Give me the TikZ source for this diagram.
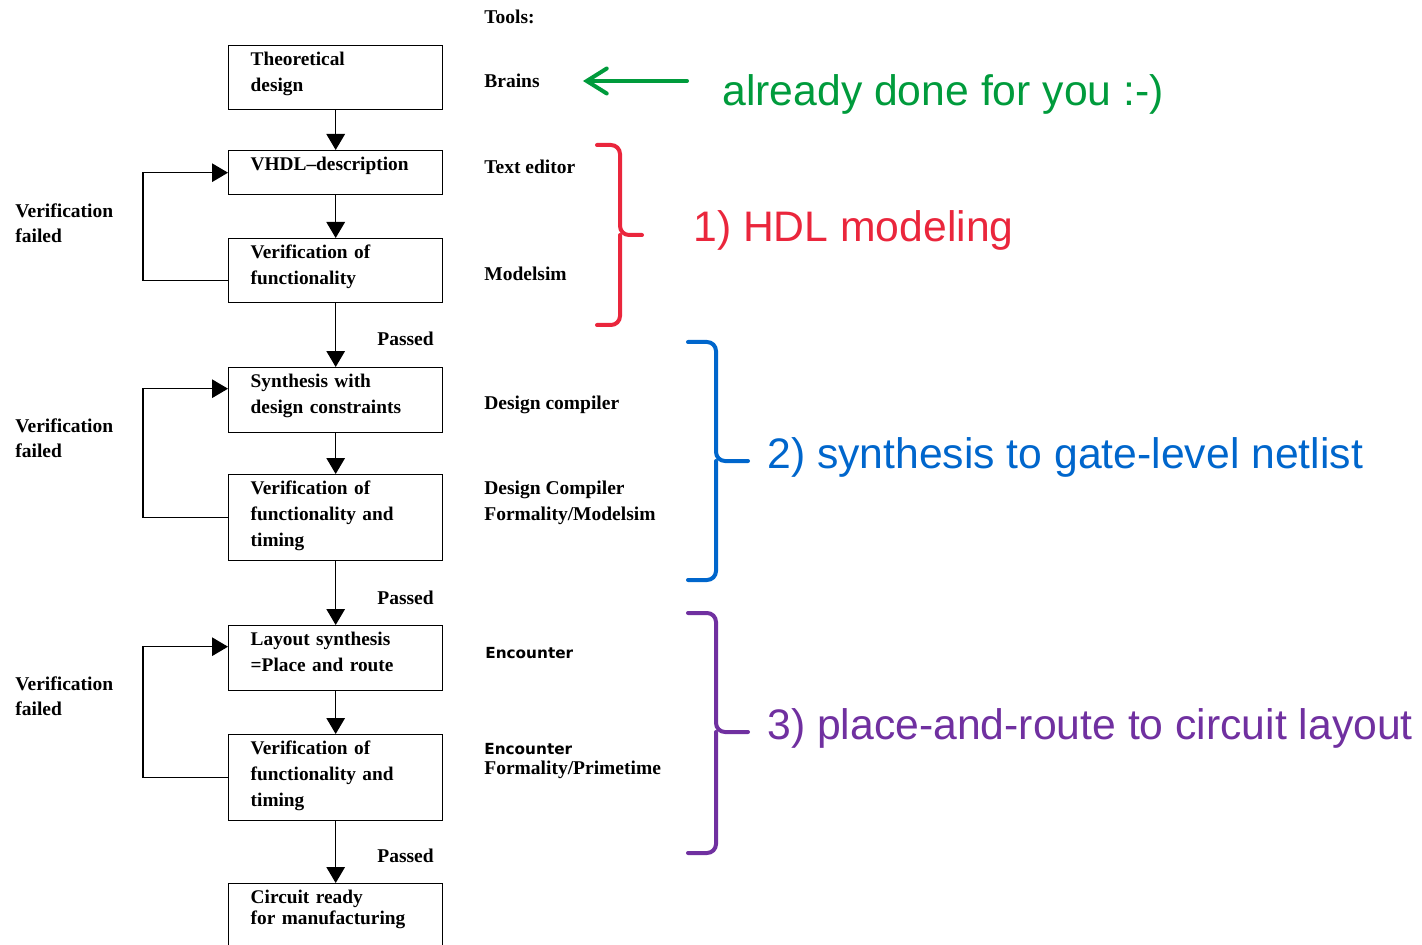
\documentclass[tikz,border=0pt]{standalone}
\usepackage{fontspec}
\setmainfont{Liberation Serif}
\newfontfamily\slidefont{Liberation Sans}
\newfontfamily\encfont{DejaVu Sans}
\usetikzlibrary{arrows.meta}
\definecolor{donegreen}{RGB}{0,155,60}
\definecolor{hdlred}{RGB}{234,38,60}
\definecolor{synblue}{RGB}{0,102,204}
\definecolor{parpurple}{RGB}{112,48,160}
\begin{document}
\begin{tikzpicture}[x=0.02cm,y=-0.02cm,
	stage/.style={draw,thick,anchor=north west,inner ysep=0pt,inner xsep=0.44cm,text width=3.4cm,align=left,text height=0.4cm,text depth=#1,font=\bfseries\fontsize{11}{14.8}\selectfont},
	flow/.style={thick,-{Triangle[length=0.32cm,width=0.37cm]}},
	tool/.style={anchor=west,inner sep=0pt,align=left,font=\bfseries\fontsize{11.1}{14.5}\selectfont},
	slide/.style={anchor=west,inner sep=0pt,font=\slidefont\fontsize{24.3}{28}\selectfont},
	bracket/.style={line width=0.08cm,rounded corners=0.18cm,line cap=round,color=#1}]
		\path[use as bounding box,clip] (0,0) rectangle (1422,945);
		% design flow
		\node[stage=0.88cm] (theo) at (228,45) {Theoretical\\design};
		\node[stage=0.48cm] (vhdl) at (228,150) {VHDL--description};
		\node[stage=0.88cm] (ver1) at (228,238) {Verification of\\functionality};
		\node[stage=0.9cm] (syn) at (228,367) {Synthesis with\\design constraints};
		\node[stage=1.32cm] (ver2) at (228,474) {Verification of\\functionality and\\timing};
		\node[stage=0.9cm] (lay) at (228,625) {Layout synthesis\\=Place and route};
		\node[stage=1.32cm] (ver3) at (228,734) {Verification of\\functionality and\\timing};
		\node[stage=1.2cm] (circ) at (228,883) {Circuit ready\\[-3pt]for manufacturing};
		\draw[flow] (theo) -- (vhdl);
		\draw[flow] (vhdl) -- (ver1);
		\draw[flow] (ver1) -- (syn);
		\draw[flow] (syn) -- (ver2);
		\draw[flow] (ver2) -- (lay);
		\draw[flow] (lay) -- (ver3);
		\draw[flow] (ver3) -- (circ);
		% loops back
		\draw[flow] ([yshift=-0.2cm]ver1.west) -- ++(-85,0) |- (vhdl.west);
		\draw[flow] (ver2.west) -- ++(-85,0) |- ([yshift=0.23cm]syn.west);
		\draw[flow] (ver3.west) -- ++(-85,0) |- ([yshift=0.23cm]lay.west);
		\node[tool] (fail1) at (15,223) {Verification\\failed};
		\node[tool] (fail2) at (15,438) {Verification\\failed};
		\node[tool] (fail3) at (15,696) {Verification\\failed};
		\node[tool] (pass1) at (377,339) {Passed};
		\node[tool] (pass2) at (377,598) {Passed};
		\node[tool] (pass3) at (377,856) {Passed};
		% tools
		\node[tool] (tools) at (484,17) {Tools:};
		\node[tool] (brains) at (484,81) {Brains};
		\node[tool] (editor) at (484,167) {Text editor};
		\node[tool] (msim) at (484,274) {Modelsim};
		\node[tool] (dc) at (484,405) {Design compiler};
		\node[tool] (dcf) at (484,503) {Design Compiler\\Formality/Modelsim};
		\node[tool,font=\encfont\bfseries\fontsize{8.7}{11}\selectfont] (enc) at (485,653) {Encounter};
		\node[tool] (encf) at (484,761) {{\encfont\fontsize{8.7}{11}\selectfont Encounter}\\[-3pt]Formality/Primetime};
		% annotations
		\node[slide,text=donegreen] (done) at (722,94) {already done for you :-)};
		\draw[donegreen,line width=0.08cm,line cap=round,-{Straight Barb[length=0.4cm,width=0.5cm,line cap=round]},shorten <=0.7cm,shorten >=0.86cm] (done.west |- brains.east) -- (brains.east);
		\draw[bracket=hdlred] (597,145) -| (620,235) -- (642,235);
		\draw[bracket=hdlred] (597,325) -| (620,235);
		\node[slide,text=hdlred] (hdl) at (693,230) {1) HDL modeling};
		\draw[bracket=synblue] (688,342) -| (716,461) -- (748,461);
		\draw[bracket=synblue] (688,580) -| (716,461);
		\node[slide,text=synblue] (synth) at (767,457) {2) synthesis to gate-level netlist};
		\draw[bracket=parpurple] (688,613) -| (716,732) -- (748,732);
		\draw[bracket=parpurple] (688,853) -| (716,732);
		\node[slide,text=parpurple] (pnr) at (767,728) {3) place-and-route to circuit layout};
	\end{tikzpicture}
\end{document}
